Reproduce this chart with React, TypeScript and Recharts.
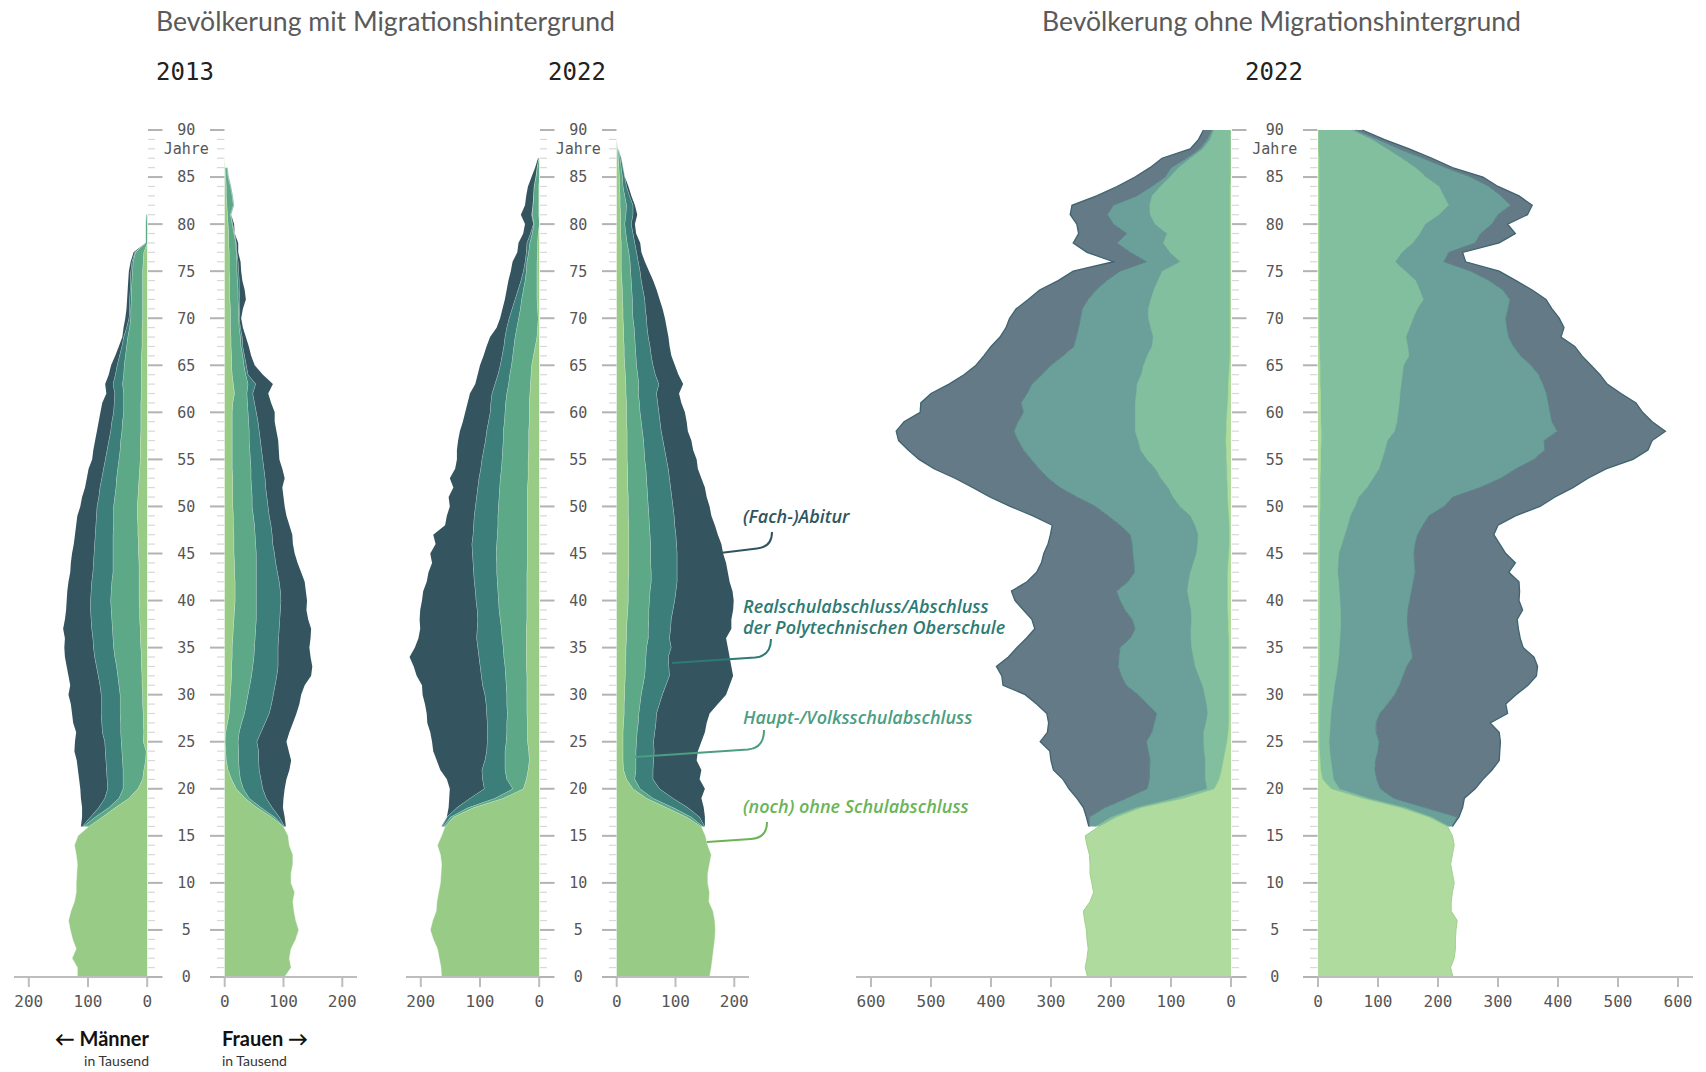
import React from "react";
import { AreaChart, Area, XAxis, YAxis } from "recharts";

// ages 0..90 (one row per year of age)
const ages = Array.from({ length: 91 }, (_, i) => i);

// ---- Bevölkerung mit Migrationshintergrund, 2013, Männer (in Tausend)
const m13Ohne = [118,118,127,120,126,130,133,129,123,120,120,119,118,120,123,117, 99,76,54,31,16,8,6,3,2,7,6,7,7,8,8, 9,9,10,10,11,12,12,13,13,14,14,14,14,14,15, 15,16,16,17,17,16,15,14,13,12,12,12,11,11,11, 11,10,10,10,10,10,9,9,9,8,8,8,8,8,8, 7,6,0,0,0,0,0,0,0,0,0,0,0,0,0];
const m13Haupt = [0,0,0,0,0,0,0,0,0,0,0,0,0,0,0,0, 9,12,11,17,25,33,35,39,41,37,39,38,39,38,38, 39,41,42,45,46,46,47,47,48,48,47,46,44,44,43, 43,42,41,40,40,39,38,38,37,36,34,33,32,31,29, 29,30,32,30,29,27,26,24,21,20,20,19,19,18,17, 17,14,3,3,3,2,0,0,0,0,0,0,0,0,0];
const m13Real = [0,0,0,0,0,0,0,0,0,0,0,0,0,0,0,0, 2,8,17,24,26,27,28,28,28,28,31,32,32,32,32, 32,33,34,34,34,34,35,35,35,34,34,34,34,33,32, 31,30,30,29,28,27,27,25,24,23,22,20,19,18,17, 16,15,16,14,12,10,8,7,5,3,2,3,2,3,3, 2,1,0,0,0,0,0,0,0,0,0,0,0,0,0];
const m13Abi = [0,0,0,0,0,0,0,0,0,0,0,0,0,0,0,0, 2,14,28,40,46,47,48,49,52,50,44,48,49,51,55, 50,50,50,50,49,47,48,44,41,40,40,39,38,38,37, 35,34,33,32,28,28,25,25,25,22,23,23,23,22,22, 20,14,13,11,10,7,5,2,5,6,5,4,4,3,3, 2,2,0,0,0,0,0,0,0,0,0,0,0,0,0];

// ---- mit Migrationshintergrund, 2013, Frauen
const f13Ohne = [102,113,110,113,121,126,121,118,116,119,113,113,116,116,110,108, 100,80,55,35,20,12,6,3,2,1,2,5,8,9,10, 11,12,12,13,13,14,15,16,17,18,18,18,17,17,16, 16,16,15,15,14,14,14,14,13,13,13,13,13,13,13, 14,17,15,13,12,12,11,11,10,10,10,9,9,9,8, 8,8,7,7,6,5,4,3,3,2,1,0,0,0,0];
const f13Haupt = [0,0,0,0,0,0,0,0,0,0,0,0,0,0,0,0, 1,5,7,7,12,15,19,21,22,22,23,24,26,28,30, 32,34,36,37,38,38,38,38,37,36,36,36,37,37,38, 37,36,36,34,33,33,32,31,32,31,30,29,29,28,27, 25,21,25,23,21,19,17,16,15,14,14,14,14,13,13, 13,12,12,9,7,5,11,10,7,4,3,0,0,0,0];
const f13Real = [0,0,0,0,0,0,0,0,0,0,0,0,0,0,0,0, 1,8,19,29,33,35,34,34,34,32,37,40,42,43,43, 43,43,43,41,40,40,40,40,41,42,41,39,36,33,31, 29,29,28,27,27,25,24,24,22,21,20,19,17,16,14, 12,10,13,4,4,3,3,3,2,1,2,3,2,3,3, 2,1,1,1,1,1,1,1,1,1,1,0,0,0,0];
const f13Abi = [0,0,0,0,0,0,0,0,0,0,0,0,0,0,0,0, 2,9,18,29,37,43,51,55,51,50,48,47,46,47,47, 50,58,58,55,53,54,54,48,44,44,43,43,40,37,34, 34,34,31,29,28,28,28,33,31,28,29,30,29,28,31, 28,26,29,25,14,11,10,6,4,3,5,10,9,5,4, 4,2,3,0,2,0,0,0,0,0,0,0,0,0,0];

// ---- mit Migrationshintergrund, 2022, Männer
const m22Ohne = [165,166,169,172,179,184,180,174,173,170,167,166,165,167,172,165, 159,145,111,61,27,22,19,17,18,20,20,20,21,21,21, 21,21,22,22,22,22,22,21,21,21,21,21,21,20,20, 20,20,20,20,20,20,20,19,19,19,18,18,18,17,17, 17,16,15,14,13,10,7,4,3,2,3,4,4,4,4, 4,3,3,2,0,1,1,1,1,0,0,0,0,0,0];
const m22Haupt = [0,0,0,0,0,0,0,0,0,0,0,0,0,0,0,0, 3,5,9,14,18,33,39,41,40,36,35,35,33,34,34, 35,36,36,38,39,41,42,45,47,48,49,50,51,52,53, 52,51,50,50,49,48,47,47,45,44,44,43,43,42,41, 40,39,37,36,34,35,36,37,35,33,29,26,23,20,18, 17,15,13,10,9,11,10,9,8,6,4,1,0,0,0];
const m22Real = [0,0,0,0,0,0,0,0,0,0,0,0,0,0,0,0, 2,6,19,42,48,41,39,34,31,32,33,33,35,35,37, 40,41,42,42,43,43,41,38,37,38,38,39,39,40,40, 42,41,41,40,39,38,37,36,35,34,32,30,28,27,25, 25,25,23,20,19,18,17,17,17,16,14,11,9,7,5, 3,4,5,3,1,1,0,0,0,0,0,0,0,0,0];
const m22Abi = [0,0,0,0,0,0,0,0,0,0,0,0,0,0,0,0, 1,0,14,35,58,60,70,81,90,93,96,101,101,103,105, 102,109,112,117,106,98,96,98,96,91,88,80,76,69,71, 61,67,48,46,43,47,41,49,43,42,45,46,45,43,42, 39,37,33,34,34,31,29,25,17,15,16,17,19,21,21, 21,15,14,12,14,18,13,12,10,7,3,1,0,0,0];

// ---- mit Migrationshintergrund, 2022, Frauen
const f22Ohne = [158,161,163,165,167,168,167,164,157,158,155,155,158,161,155,151, 144,119,85,51,28,17,12,11,11,11,11,12,13,13,14, 14,15,15,16,16,17,17,18,19,20,20,20,21,21,21, 21,21,21,20,20,20,19,19,19,18,18,18,18,17,17, 17,16,16,15,14,13,13,12,12,11,11,10,10,9,8, 8,8,8,7,7,7,6,6,5,5,4,3,2,0,0];
const f22Haupt = [0,0,0,0,0,0,0,0,0,0,0,0,0,0,0,0, 3,8,11,11,12,14,21,22,22,23,24,25,25,27,28, 31,33,34,34,35,37,37,37,36,36,37,39,38,37,37, 37,36,35,35,34,33,33,32,31,30,29,28,26,25,23, 22,21,22,21,20,20,19,19,18,17,16,17,16,16,16, 15,13,10,9,7,9,11,8,6,5,4,3,1,0,0];
const f22Real = [0,0,0,0,0,0,0,0,0,0,0,0,0,0,0,0, 3,14,25,34,33,31,29,30,31,29,30,30,30,33,36, 39,42,40,38,42,36,38,38,41,43,44,44,44,45,45, 44,44,43,43,42,41,40,39,38,37,35,33,32,32,32, 31,31,34,30,28,26,25,23,22,23,22,21,19,17,16, 14,13,13,12,11,12,11,8,6,4,3,2,0,0,0];
const f22Abi = [0,0,0,0,0,0,0,0,0,0,0,0,0,0,0,0, 0,9,27,48,77,79,82,73,74,81,85,86,90,99,108, 108,108,106,104,96,96,103,102,102,100,96,89,86,83,78, 76,71,68,63,62,59,58,54,50,51,48,48,45,45,44, 40,38,41,39,37,34,33,34,33,31,29,25,23,20,15, 11,8,9,5,6,7,3,3,3,0,0,0,0,0,0];

// ---- ohne Migrationshintergrund, 2022, Männer
const o22MOhne = [239,243,240,238,240,241,244,246,235,229,232,235,235,236,240,243, 220,191,150,79,28,20,16,13,10,7,5,4,4,4,4, 4,4,4,4,4,4,5,5,6,6,6,6,6,5,4, 3,3,3,4,5,6,6,7,7,8,8,9,8,8,7, 6,5,5,4,3,2,2,2,2,2,2,2,2,2,2, 2,2,2,2,2,2,2,2,2,1,1,1,1,1,1];
const o22MHaupt = [0,0,0,0,0,0,0,0,0,0,0,0,0,0,0,0, 6,9,8,16,12,23,27,30,35,39,41,38,35,37,40, 44,50,56,59,62,63,62,61,61,64,67,65,62,58,54, 53,52,57,64,80,91,99,110,119,132,143,146,152,152,153, 154,153,152,146,143,138,130,128,132,136,136,132,127,120,113, 83,100,111,105,125,133,134,130,116,101,87,67,46,34,28];
const o22MReal = [0,0,0,0,0,0,0,0,0,0,0,0,0,0,0,0, 10,36,52,79,100,93,93,92,93,95,86,86,85,99,111, 127,129,128,124,119,101,93,99,110,115,118,101,93,99,106, 109,113,125,137,141,160,180,188,194,193,195,200,202,195,186, 190,182,175,165,154,140,130,128,120,113,110,104,96,85,70, 56,66,77,67,69,71,60,25,14,8,12,6,5,5,3];
const o22MAbi = [0,0,0,0,0,0,0,0,0,0,0,0,0,0,0,0, 1,5,36,83,130,144,160,165,164,177,174,176,183,184,188, 205,199,203,184,172,173,167,167,169,175,175,168,163,154,148, 140,133,113,125,142,145,145,155,175,187,192,199,196,190,172, 167,160,138,130,125,132,138,127,121,118,110,100,94,81,78, 55,72,73,80,61,62,69,67,58,50,35,41,16,14,14];

// ---- ohne Migrationshintergrund, 2022, Frauen
const o22FOhne = [225,221,227,229,229,230,232,222,222,224,227,224,221,224,227,224, 216,185,138,75,22,8,5,4,3,2,2,2,2,2,2, 2,2,3,3,3,3,3,3,3,3,3,3,3,3,3, 3,3,3,3,4,4,4,4,5,5,5,6,6,5,5, 5,5,4,4,4,3,3,2,2,2,2,2,2,2,2, 2,2,2,2,2,2,2,2,2,2,2,2,1,1,1];
const o22FHaupt = [0,0,0,0,0,0,0,0,0,0,0,0,0,0,0,0, 3,5,8,10,14,18,19,18,17,17,18,19,20,22,24, 26,29,30,32,33,34,35,35,35,34,33,32,30,31,32, 37,42,47,51,58,64,78,88,97,102,107,110,122,127,129, 131,132,135,137,139,149,147,145,151,157,164,174,168,161,144, 127,138,156,168,177,200,216,208,200,178,161,138,114,89,56];
const o22FReal = [0,0,0,0,0,0,0,0,0,0,0,0,0,0,0,0, 5,42,32,41,68,72,71,74,80,83,77,76,81,92,102, 108,111,115,123,119,115,112,111,112,116,120,124,129,127,125, 122,121,125,131,148,157,188,213,228,253,266,261,271,258,253, 248,244,236,227,212,186,176,171,162,154,151,144,138,122,109, 81,78,104,101,111,98,103,95,83,75,50,35,20,10,6];
const o22FAbi = [0,0,0,0,0,0,0,0,0,0,0,0,0,0,0,0, 0,3,63,118,158,177,195,206,203,202,205,190,213,197,202, 214,222,218,202,187,185,184,183,191,182,180,176,156,168,153, 141,127,125,144,160,170,155,145,150,165,172,180,180,167,154, 146,124,107,102,100,102,102,87,95,89,73,60,49,45,47, 36,23,40,58,26,49,36,30,15,20,11,15,17,10,11];

const smallTicks = [0, 100, 200];
const bigTicks = [0, 100, 200, 300, 400, 500, 600];

const darkColors = { ohne: "#98cc86", haupt: "#5ca887", real: "#3b7e7a", abi: "#34555f" };
const paleColors = { ohne: "#afdb9e", haupt: "#82bf9f", real: "#6b9f99", abi: "#647a86" };

const MONO = "'DejaVu Sans Mono', monospace";
const SANS = "Lato, 'Open Sans', sans-serif";
const NOTE = "'Open Sans', Lato, sans-serif";

const CHART_TOP = 120;
const PLOT_H = 847;

// ages where nobody has a school certificate yet: leave the upper layers out
// so their outlines are not drawn along the edge of the children's area
function makeRows(o: number[], h: number[], r: number[], a: number[]) {
  return ages.map((age, i) => {
    const none = h[i] + r[i] + a[i] === 0;
    return {
      age,
      ohne: o[i],
      haupt: none ? null : h[i],
      real: none ? null : r[i],
      abi: none ? null : a[i],
    };
  });
}

function AgeTick(props: any) {
  const { y, payload, gap } = props;
  const v = payload.value as number;
  const major = v % 5 === 0;
  const mid = (15.5 + gap) / 2;
  const col = major ? "#b3b3b3" : "#d8d8d8";
  const w = major ? 2 : 1.2;
  return (
    <g>
      <line x1={1} x2={major ? 15.5 : 8} y1={y} y2={y} stroke={col} strokeWidth={w} />
      <line x1={major ? gap : gap + 7} x2={gap + 14.5} y1={y} y2={y} stroke={col} strokeWidth={w} />
      {major && (
        <text x={mid} y={y} dy="0.36em" textAnchor="middle" fontFamily={MONO} fontSize={15} fill="#555">
          {v}
        </text>
      )}
      {v === 88 && (
        <text x={mid} y={y} dy="0.36em" textAnchor="middle" fontFamily={MONO} fontSize={15} fill="#555">
          Jahre
        </text>
      )}
    </g>
  );
}

type HalfProps = {
  left: number;
  width: number;
  men: boolean;
  gap?: number;
  max: number;
  ticks: number[];
  rows: any[];
  colors: typeof darkColors;
  pale?: boolean;
};

function Half({ left, width, men, gap = 0, max, ticks, rows, colors, pale }: HalfProps) {
  const thin = pale ? undefined : "rgba(255,255,255,0.5)";
  return (
    <div style={{ position: "absolute", left, top: CHART_TOP }}>
      <AreaChart
        layout="vertical"
        width={width}
        height={10 + PLOT_H + 50}
        data={rows}
        margin={{ top: 10, right: 0, bottom: 0, left: 0 }}
      >
        <XAxis
          type="number"
          domain={[-25, max]}
          allowDataOverflow
          reversed={men}
          ticks={ticks}
          interval={0}
          height={50}
          tickSize={10}
          tickMargin={9}
          axisLine={{ stroke: "#bdbdbd", strokeWidth: 2 }}
          tickLine={{ stroke: "#bdbdbd", strokeWidth: 2 }}
          tick={{ fill: "#555", fontSize: 16, fontFamily: MONO }}
        />
        {men ? (
          <YAxis type="number" dataKey="age" domain={[0, 90]} reversed hide />
        ) : (
          <YAxis
            type="number"
            dataKey="age"
            domain={[0, 90]}
            reversed
            ticks={ages}
            interval={0}
            width={gap}
            axisLine={false}
            tickLine={false}
            tick={(p: any) => <AgeTick {...p} gap={gap} />}
          />
        )}
        <Area type="linear" dataKey="ohne" stackId="s" fill={colors.ohne} fillOpacity={1}
          stroke={pale ? "#9fd18c" : thin} strokeWidth={1} dot={false} activeDot={false} isAnimationActive={false} />
        <Area type="linear" dataKey="haupt" stackId="s" fill={colors.haupt} fillOpacity={1}
          stroke={pale ? "#79b896" : thin} strokeWidth={1} dot={false} activeDot={false} isAnimationActive={false} />
        <Area type="linear" dataKey="real" stackId="s" fill={colors.real} fillOpacity={1}
          stroke={pale ? "#4c8d87" : thin} strokeWidth={1} dot={false} activeDot={false} isAnimationActive={false} />
        <Area type="linear" dataKey="abi" stackId="s" fill={colors.abi} fillOpacity={1}
          stroke={pale ? "#3f6470" : "none"} strokeWidth={1.3} dot={false} activeDot={false} isAnimationActive={false} />
      </AreaChart>
    </div>
  );
}

const textStyle = { fontFamily: SANS };
const noteStyle = { fontFamily: NOTE };

export default function App() {
  return (
    <div style={{ position: "absolute", left: 0, top: 0, width: 1706, height: 1072, background: "#fff", overflow: "hidden" }}>
      <Half left={14} width={148} men max={225} ticks={smallTicks} colors={darkColors}
        rows={makeRows(m13Ohne, m13Haupt, m13Real, m13Abi)} />
      <Half left={147} width={210} men={false} gap={63} max={225} ticks={smallTicks} colors={darkColors}
        rows={makeRows(f13Ohne, f13Haupt, f13Real, f13Abi)} />
      <Half left={406} width={148} men max={225} ticks={smallTicks} colors={darkColors}
        rows={makeRows(m22Ohne, m22Haupt, m22Real, m22Abi)} />
      <Half left={539} width={210} men={false} gap={63} max={225} ticks={smallTicks} colors={darkColors}
        rows={makeRows(f22Ohne, f22Haupt, f22Real, f22Abi)} />
      <Half left={855.5} width={390} men max={625} ticks={bigTicks} colors={paleColors} pale
        rows={makeRows(o22MOhne, o22MHaupt, o22MReal, o22MAbi)} />
      <Half left={1231} width={462} men={false} gap={72} max={625} ticks={bigTicks} colors={paleColors} pale
        rows={makeRows(o22FOhne, o22FHaupt, o22FReal, o22FAbi)} />

      <svg width={1706} height={1072} style={{ position: "absolute", left: 0, top: 0, pointerEvents: "none" }}>
        <text x={156} y={31} fontSize={26} fill="#5a5a5a" style={textStyle} textLength={459} lengthAdjust="spacingAndGlyphs">
          Bevölkerung mit Migrationshintergrund
        </text>
        <text x={1042} y={31} fontSize={26} fill="#5a5a5a" style={textStyle} textLength={479} lengthAdjust="spacingAndGlyphs">
          Bevölkerung ohne Migrationshintergrund
        </text>
        <text x={185} y={80} fontSize={24} fill="#222" fontFamily={MONO} textAnchor="middle">2013</text>
        <text x={577} y={80} fontSize={24} fill="#222" fontFamily={MONO} textAnchor="middle">2022</text>
        <text x={1274} y={80} fontSize={24} fill="#222" fontFamily={MONO} textAnchor="middle">2022</text>

        <text x={149} y={1046} fontSize={20} fontWeight={700} fill="#111" textAnchor="end" style={textStyle}>← Männer</text>
        <text x={149} y={1066} fontSize={14} fill="#333" textAnchor="end" style={textStyle}>in Tausend</text>
        <text x={222} y={1046} fontSize={20} fontWeight={700} fill="#111" style={textStyle}>Frauen →</text>
        <text x={222} y={1066} fontSize={14} fill="#333" style={textStyle}>in Tausend</text>

        <g fontSize={18} fontWeight={600} fontStyle="italic" style={noteStyle}>
          <text x={743} y={523} fill="#2f5560">(Fach-)Abitur</text>
          <text x={743} y={613} fill="#2e7a74">Realschulabschluss/Abschluss</text>
          <text x={743} y={634} fill="#2e7a74">der Polytechnischen Oberschule</text>
          <text x={743} y={724} fill="#4c9e80">Haupt-/Volksschulabschluss</text>
          <text x={743} y={813} fill="#6ab458">(noch) ohne Schulabschluss</text>
        </g>
        <g fill="none" strokeWidth={2}>
          <path d="M772 532 Q772 547 757 548.5 L720 553" stroke="#2f5560" />
          <path d="M771 639 Q771 656 755 657.5 L672 663" stroke="#2e7a74" />
          <path d="M764 730 Q764 748 748 749.5 L635 757" stroke="#4c9e80" />
          <path d="M767 822 Q767 838 751 839 L707 842" stroke="#6ab458" />
        </g>
      </svg>
    </div>
  );
}
